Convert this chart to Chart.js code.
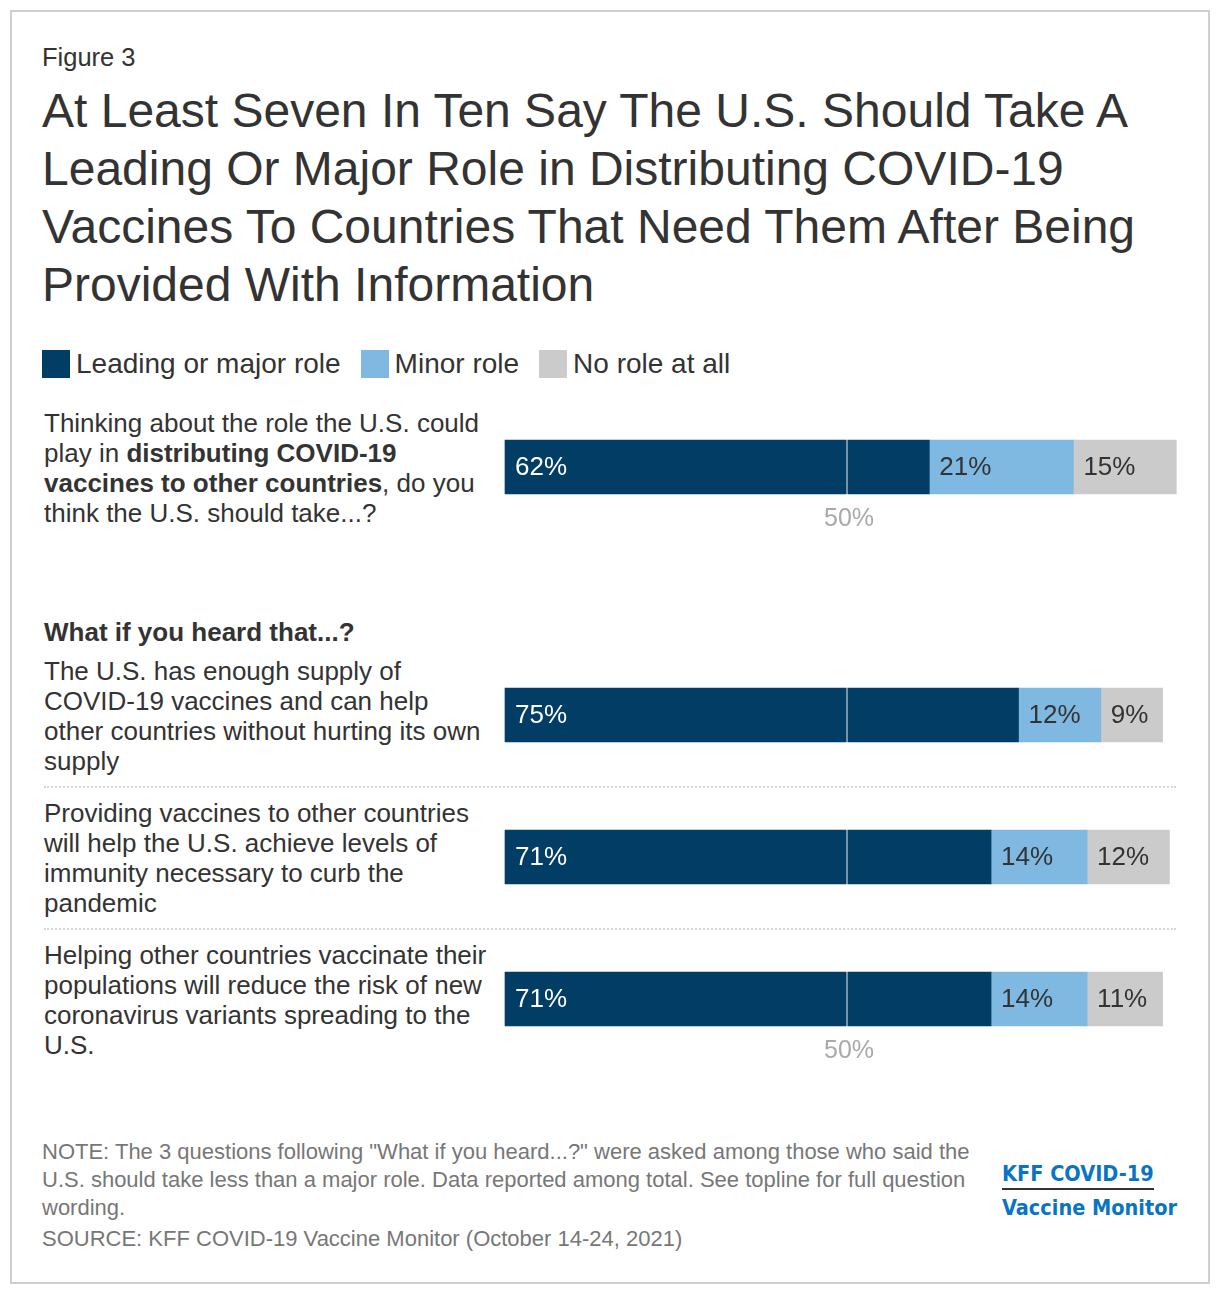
<!DOCTYPE html>
<html>
<head>
<meta charset="utf-8">
<script src="https://cdn.jsdelivr.net/npm/chart.js@4"></script>
<style>
  html, body { margin: 0; padding: 0; background: #fff; }
  body { width: 1220px; height: 1294px; position: relative; font-family: "Liberation Sans", Arial, sans-serif; color: #333; }
  .frame { position: absolute; left: 10px; top: 10px; width: 1196px; height: 1270px; border: 2px solid #cfcfcf; }
  .abs { position: absolute; }
  #figno { left: 42px; top: 43px; font-size: 25.5px; }
  #title { left: 42px; top: 82px; width: 1150px; font-size: 48px; line-height: 58px; }
  #legend { left: 42px; top: 348px; font-size: 28px; display: flex; align-items: center; }
  #legend .sw { width: 28px; height: 28px; display: inline-block; margin-right: 6px; }
  #legend .item { display: flex; align-items: center; margin-right: 20px; }
  .q { left: 44px; width: 446px; font-size: 26px; line-height: 30px; }
  #heading { left: 44px; top: 617px; font-size: 26px; font-weight: bold; }
  .sep { left: 44px; width: 1132px; height: 0; border-top: 2px dotted #d6d6d6; }
  #notes { left: 42px; top: 1138px; width: 940px; font-size: 22px; line-height: 28px; color: #777; }
  #notes .src { margin-top: 3px; }
  #logo { left: 1002px; top: 1161px; color: #0a74c4; font-weight: bold; font-size: 21.5px; font-family: "DejaVu Sans Condensed", "Liberation Sans Narrow", sans-serif; }
  #logo .l1 { border-bottom: 2px solid #333; padding-bottom: 2px; display: inline-block; }
  #logo .l2 { margin-top: 5px; }
  .box { position: absolute; }
</style>
</head>
<body>
<div class="frame"></div>
<div class="abs" id="figno">Figure 3</div>
<div class="abs" id="title">At Least Seven In Ten Say The U.S. Should Take A Leading Or Major Role in Distributing COVID-19 Vaccines To Countries That Need Them After Being Provided With Information</div>
<div class="abs" id="legend"></div>

<div class="abs q" style="top:408px">Thinking about the role the U.S. could play in <b>distributing COVID-19 vaccines to other countries</b>, do you think the U.S. should take...?</div>
<div class="abs" id="heading">What if you heard that...?</div>
<div class="abs q" id="q2" style="top:656px"></div>
<div class="abs sep" style="top:786px"></div>
<div class="abs q" id="q3" style="top:798px"></div>
<div class="abs sep" style="top:928px"></div>
<div class="abs q" id="q4" style="top:940px"></div>

<div class="box" style="left:504px; top:430px; width:686px; height:110px;"><canvas id="chart1"></canvas></div>
<div class="box" style="left:504px; top:644px; width:686px; height:440px;"><canvas id="chart2"></canvas></div>

<div class="abs" id="notes">NOTE: The 3 questions following "What if you heard...?" were asked among those who said the U.S. should take less than a major role. Data reported among total. See topline for full question wording.<div class="src">SOURCE: KFF COVID-19 Vaccine Monitor (October 14-24, 2021)</div></div>
<div class="abs" id="logo"><div class="l1">KFF COVID-19</div><div class="l2">Vaccine Monitor</div></div>

<script>
// series names and colours
const seriesNames = ["Leading or major role", "Minor role", "No role at all"];
const seriesColors = ["#023d65", "#7fb9e2", "#cbcbcb"];
const labelColors = ["#ffffff", "#333333", "#333333"];

// first question (before information)
const baseQuestion = ["Distributing COVID-19 vaccines to other countries"];
const baseLeading = [62];
const baseMinor = [21];
const baseNone = [15];

// "What if you heard that...?" statements
const infoQuestions = [
  "The U.S. has enough supply of COVID-19 vaccines and can help other countries without hurting its own supply",
  "Providing vaccines to other countries will help the U.S. achieve levels of immunity necessary to curb the pandemic",
  "Helping other countries vaccinate their populations will reduce the risk of new coronavirus variants spreading to the U.S."
];
const infoLeading = [75, 71, 71];
const infoMinor = [12, 14, 14];
const infoNone = [9, 12, 11];

const refTick = 50;

// legend + question text
const legendEl = document.getElementById('legend');
seriesNames.forEach((n, i) => {
  const it = document.createElement('div');
  it.className = 'item';
  it.innerHTML = '<span class="sw" style="background:' + seriesColors[i] + '"></span>' + n;
  legendEl.appendChild(it);
});
['q2', 'q3', 'q4'].forEach((id, i) => document.getElementById(id).textContent = infoQuestions[i]);

// values written inside each segment
const barLabels = {
  id: 'barLabels',
  afterDatasetsDraw(chart) {
    const ctx = chart.ctx;
    ctx.save();
    ctx.font = '26px "Liberation Sans", Arial, sans-serif';
    ctx.textBaseline = 'middle';
    ctx.textAlign = 'left';
    chart.data.datasets.forEach((ds, di) => {
      chart.getDatasetMeta(di).data.forEach((bar, i) => {
        ctx.fillStyle = labelColors[di];
        ctx.fillText(ds.data[i] + '%', bar.base + 10, bar.y + 1);
      });
    });
    ctx.restore();
  }
};

// grey "50%" under the last bar
const refLabel = {
  id: 'refLabel',
  afterDraw(chart) {
    const ctx = chart.ctx;
    const meta = chart.getDatasetMeta(0);
    const last = meta.data[meta.data.length - 1];
    const x = chart.scales.x.getPixelForValue(refTick);
    ctx.save();
    ctx.font = '25px "Liberation Sans", Arial, sans-serif';
    ctx.fillStyle = '#a9a9a9';
    ctx.textAlign = 'center';
    ctx.textBaseline = 'middle';
    ctx.fillText(refTick + '%', x + 2, last.y + last.height / 2 + 25);
    ctx.restore();
  }
};

function makeChart(id, labels, a, b, c, padBottom) {
  const values = [a, b, c];
  return new Chart(document.getElementById(id), {
    type: 'bar',
    data: {
      labels: labels,
      datasets: seriesNames.map((n, i) => ({
        label: n,
        data: values[i],
        backgroundColor: seriesColors[i],
        borderWidth: 0,
        barThickness: 54
      }))
    },
    options: {
      indexAxis: 'y',
      responsive: true,
      maintainAspectRatio: false,
      animation: false,
      layout: { padding: { bottom: padBottom } },
      plugins: { legend: { display: false }, tooltip: { enabled: false } },
      scales: {
        x: {
          stacked: true,
          min: 0,
          max: 100,
          border: { display: false },
          ticks: { display: false, stepSize: 50 },
          grid: {
            z: 1,
            drawTicks: false,
            lineWidth: 2,
            color: ctx => ctx.tick && ctx.tick.value === refTick ? 'rgba(255,255,255,0.45)' : 'rgba(0,0,0,0)'
          }
        },
        y: { stacked: true, display: false }
      }
    },
    plugins: [barLabels, refLabel]
  });
}

makeChart('chart1', baseQuestion, baseLeading, baseMinor, baseNone, 36);
makeChart('chart2', infoQuestions, infoLeading, infoMinor, infoNone, 14);
</script>
</body>
</html>
